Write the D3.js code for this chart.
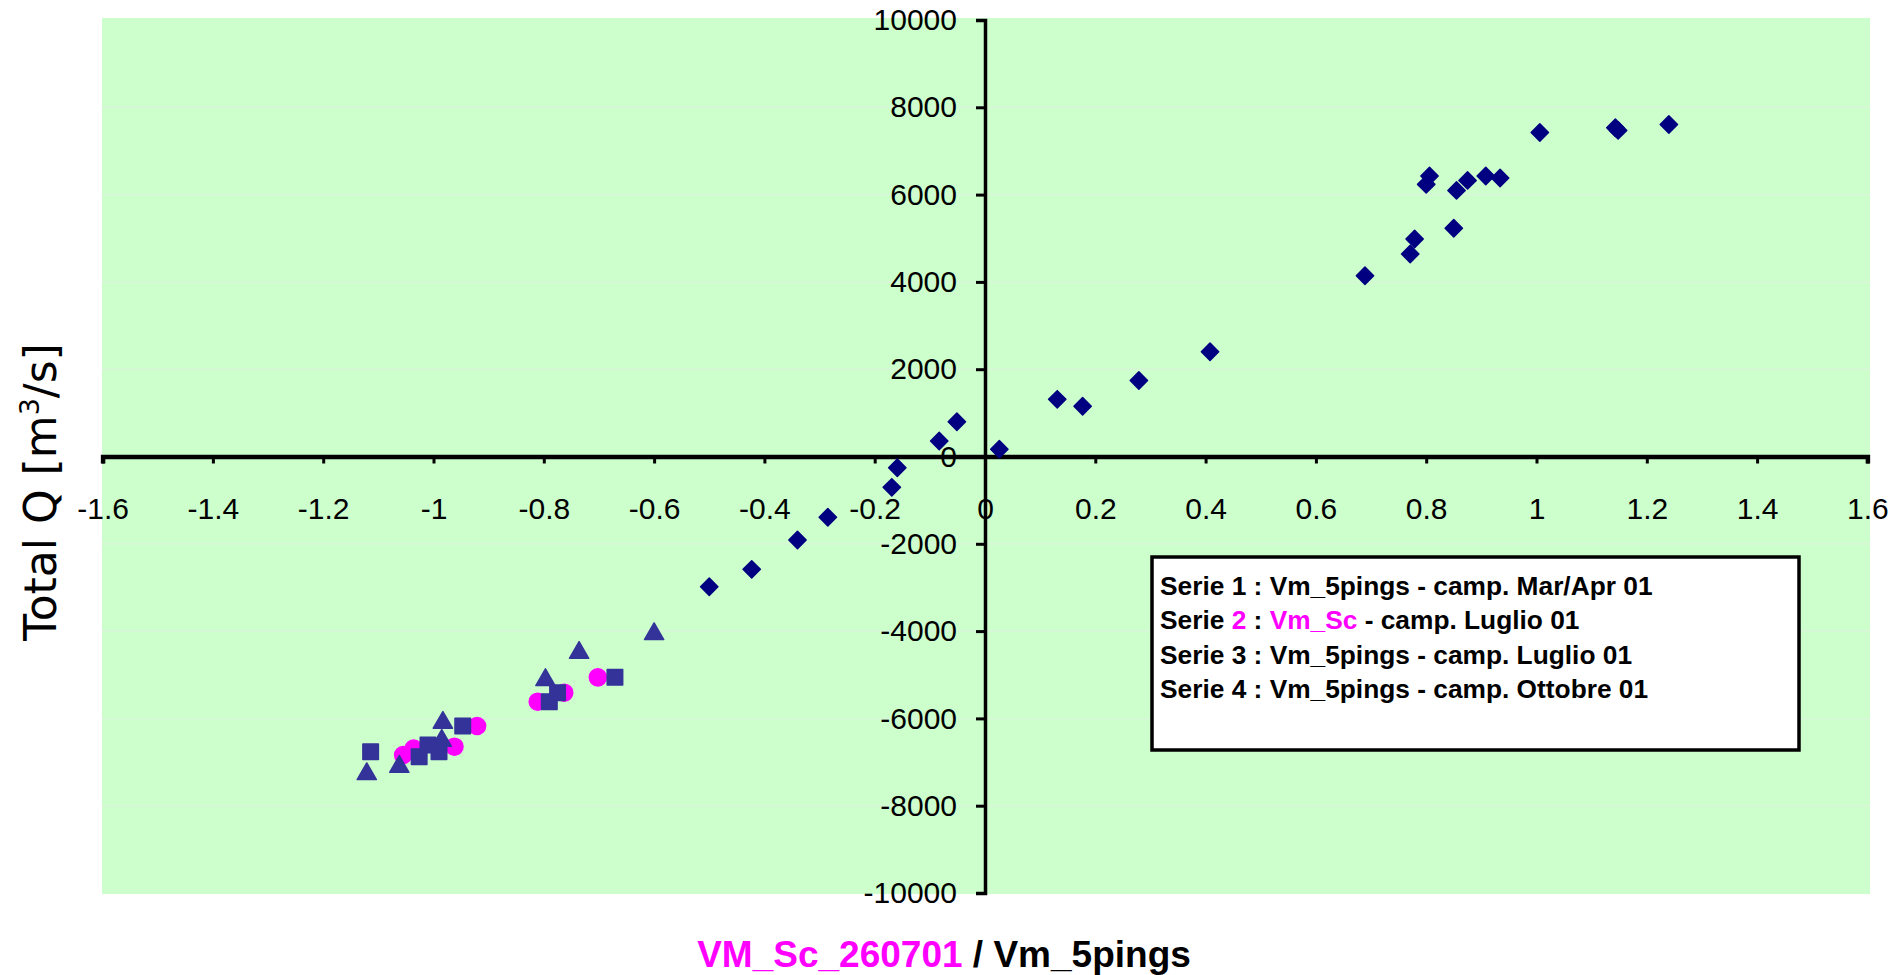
<!DOCTYPE html>
<html><head><meta charset="utf-8">
<script src="https://cdn.jsdelivr.net/npm/d3@7"></script>
<style>body{margin:0;background:#fff} text{white-space:pre}</style>
</head><body>
<svg id="chart" width="1895" height="975"></svg>
<script>
// ---- data ----
const xTicks = [-1.6,-1.4,-1.2,-1,-0.8,-0.6,-0.4,-0.2,0,0.2,0.4,0.6,0.8,1,1.2,1.4,1.6];
const yTicks = [-10000,-8000,-6000,-4000,-2000,0,2000,4000,6000,8000,10000];

// Serie 1 : Vm_5pings - camp. Mar/Apr 01 (diamonds)
const serie1X = [1.240, 1.148, 1.143, 1.006, 0.806, 0.800, 0.875, 0.855, 0.908, 0.934, 0.850, 0.779, 0.771, 0.689, 0.408, 0.279, 0.131, 0.177, 0.026, -0.051, -0.083, -0.159, -0.169, -0.285, -0.340, -0.423, -0.500];
const serie1Y = [7606, 7470, 7530, 7423, 6426, 6234, 6325, 6096, 6426, 6380, 5230, 4983, 4639, 4142, 2400, 1741, 1310, 1150, 165, 797, 355, -257, -706, -1393, -1913, -2585, -2983];
// Serie 2 : Vm_Sc - camp. Luglio 01 (circles)
const serie2X = [-1.055, -1.036, -0.962, -0.921, -0.811, -0.763, -0.702];
const serie2Y = [-6839, -6690, -6648, -6174, -5617, -5411, -5059];
// Serie 3 : Vm_5pings - camp. Luglio 01 (squares)
const serie3X = [-1.114, -1.026, -1.010, -0.990, -0.947, -0.790, -0.775, -0.671];
const serie3Y = [-6763, -6877, -6610, -6763, -6174, -5617, -5411, -5059];
// Serie 4 : Vm_5pings - camp. Ottobre 01 (triangles)
const serie4X = [-1.121, -1.062, -0.985, -0.983, -0.797, -0.736, -0.600];
const serie4Y = [-7274, -7107, -6511, -6098, -5120, -4495, -4067];

const legendLines = [
  [["Serie 1 : Vm_5pings - camp. Mar/Apr 01", "#000"]],
  [["Serie ", "#000"], ["2", "#FF00FF"], [" : ", "#000"], ["Vm_Sc", "#FF00FF"], [" - camp. Luglio 01", "#000"]],
  [["Serie 3 : Vm_5pings - camp. Luglio 01", "#000"]],
  [["Serie 4 : Vm_5pings - camp. Ottobre 01", "#000"]]
];

// ---- drawing ----
const svg = d3.select("#chart");
const x = d3.scaleLinear().domain([-1.6, 1.6]).range([102.6, 1867.4]);
const y = d3.scaleLinear().domain([-10000, 10000]).range([893, 20]);
const fmt = d => String(d);

svg.append("rect").attr("x", 102).attr("y", 18).attr("width", 1768).attr("height", 876).attr("fill", "#CCFFCC");

// faint horizontal gridlines
svg.append("g").selectAll("line").data(yTicks.filter(v => v !== 0 && Math.abs(v) !== 10000)).join("line")
  .attr("x1", 102).attr("x2", 1870).attr("y1", d => y(d)).attr("y2", d => y(d))
  .attr("stroke", "#d6f7d6").attr("stroke-width", 2);

// x axis
const xAxis = d3.axisBottom(x).tickValues(xTicks).tickFormat(fmt).tickSizeInner(7).tickSizeOuter(7).tickPadding(34);
const gx = svg.append("g").attr("transform", `translate(0,${y(0)})`).call(xAxis);
gx.select(".domain").attr("stroke", "#000").attr("stroke-width", 4.5);
gx.selectAll(".tick line").attr("stroke", "#000").attr("stroke-width", 3);
gx.selectAll(".tick text").attr("font-family", "Liberation Sans, Arial, sans-serif").attr("font-size", 30).attr("fill", "#000");

// y axis
const yAxis = d3.axisLeft(y).tickValues(yTicks).tickFormat(fmt).tickSizeInner(9).tickSizeOuter(9).tickPadding(19);
const gy = svg.append("g").attr("transform", `translate(${x(0)},0)`).call(yAxis);
gy.select(".domain").attr("stroke", "#000").attr("stroke-width", 3.5);
gy.selectAll(".tick line").attr("stroke", "#000").attr("stroke-width", 3);
gy.selectAll(".tick text").attr("font-family", "Liberation Sans, Arial, sans-serif").attr("font-size", 30).attr("fill", "#000");

// markers
function plot(xs, ys, type, size, color, rot) {
  svg.append("g").selectAll("path").data(xs.map((v, i) => [v, ys[i]])).join("path")
    .attr("d", d3.symbol().type(type).size(size))
    .attr("transform", d => `translate(${x(d[0])},${y(d[1])})` + (rot ? ` rotate(${rot})` : ""))
    .attr("fill", color).attr("stroke", color).attr("stroke-width", 1.5).attr("stroke-linejoin", "round");
}
plot(serie1X, serie1Y, d3.symbolSquare, 150, "#000080", 45);
plot(serie2X, serie2Y, d3.symbolCircle, 230, "#FF00FF", 0);
plot(serie3X, serie3Y, d3.symbolSquare, 240, "#333399", 0);
plot(serie4X, serie4Y, d3.symbolTriangle, 160, "#333399", 0);

// legend
svg.append("rect").attr("x", 1152).attr("y", 557).attr("width", 647).attr("height", 193)
  .attr("fill", "#fff").attr("stroke", "#000").attr("stroke-width", 3.5);
const lg = svg.append("g").attr("font-family", "Liberation Sans, Arial, sans-serif").attr("font-weight", "bold").attr("font-size", 26.3);
legendLines.forEach((parts, i) => {
  const t = lg.append("text").attr("x", 1160).attr("y", 595 + i * 34.4);
  parts.forEach(p => t.append("tspan").text(p[0]).attr("fill", p[1]));
});

// axis titles
const xt = svg.append("text").attr("x", 944).attr("y", 967).attr("text-anchor", "middle")
  .attr("font-family", "Liberation Sans, Arial, sans-serif").attr("font-weight", "bold").attr("font-size", 37);
xt.append("tspan").text("VM_Sc_260701").attr("fill", "#FF00FF");
xt.append("tspan").text(" / Vm_5pings").attr("fill", "#000");

const yt = svg.append("text").attr("transform", "translate(56,492) rotate(-90)").attr("text-anchor", "middle")
  .attr("font-family", "DejaVu Sans, sans-serif").attr("font-size", 44).attr("fill", "#000");
yt.append("tspan").text("Total Q [m");
yt.append("tspan").text("3").attr("font-size", 27).attr("dy", -17);
yt.append("tspan").text("/s]").attr("dy", 17);
</script>
</body></html>
